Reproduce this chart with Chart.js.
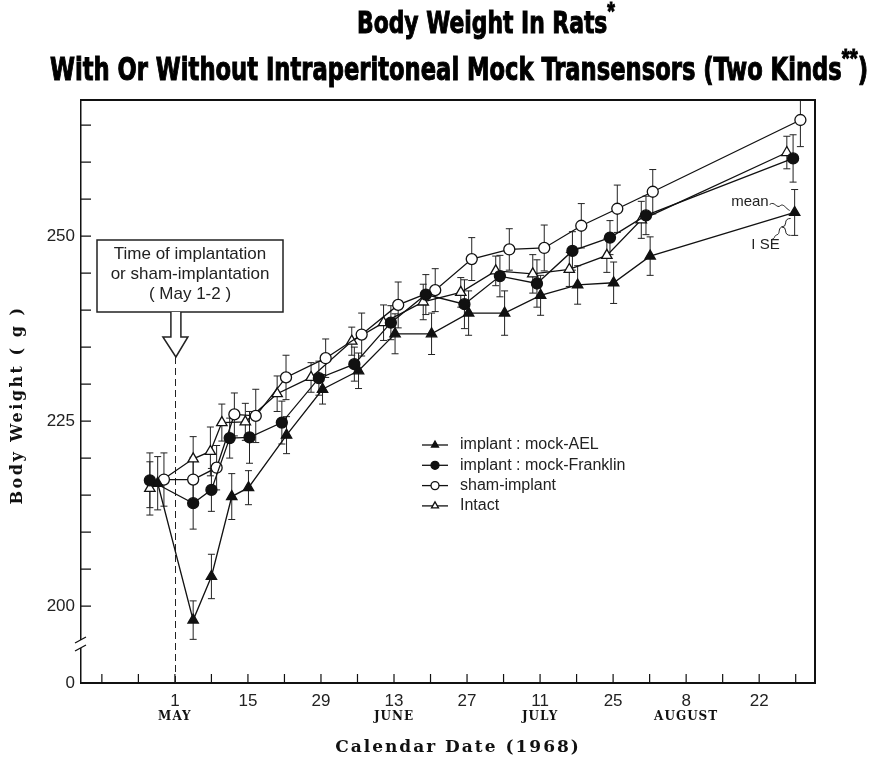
<!DOCTYPE html>
<html>
<head>
<meta charset="utf-8">
<script src="https://cdn.jsdelivr.net/npm/chart.js@4.4.0/dist/chart.umd.min.js"></script>
<style>
  html, body { margin: 0; padding: 0; background: #fff; }
</style>
</head>
<body>
<canvas id="myChart" width="874" height="759"></canvas>
<script>
// x = days counted from May 1 1968 (day 0), y = mean body weight (g), se = 1 standard error
const aelDays = [-3.3, 3.5, 7.0, 10.9, 14.1, 21.4, 28.3, 35.2, 42.2, 49.2, 56.3, 63.2, 70.1, 77.2, 84.1, 91.1, 118.8];
const aelWeight = [216.6, 198.1, 204.0, 214.8, 216.0, 223.1, 229.3, 231.8, 236.8, 236.8, 239.6, 239.6, 242.0, 243.4, 243.7, 247.3, 253.2];
const aelSE = [3.6, 2.6, 3.0, 3.1, 2.3, 2.5, 2.0, 2.4, 2.7, 2.8, 3.0, 3.0, 2.7, 2.6, 2.8, 2.6, 3.1];

const franklinDays = [-4.8, 3.5, 7.0, 10.5, 14.3, 20.5, 27.6, 34.4, 41.4, 48.1, 55.5, 62.3, 69.4, 76.2, 83.4, 90.3, 118.5];
const franklinWeight = [217.0, 213.9, 215.7, 222.7, 222.8, 224.8, 230.8, 232.7, 238.3, 242.1, 240.8, 244.6, 243.6, 248.0, 249.8, 252.8, 260.5];
const franklinSE = [3.7, 3.5, 2.9, 2.7, 3.5, 2.9, 2.3, 2.3, 2.3, 2.7, 3.3, 2.8, 3.2, 2.6, 2.3, 2.6, 3.2];

const shamDays = [-2.1, 3.5, 8.0, 11.4, 15.5, 21.3, 28.9, 35.8, 42.8, 49.9, 56.9, 64.1, 70.8, 77.9, 84.8, 91.6, 119.9];
const shamWeight = [217.1, 217.1, 218.7, 225.9, 225.7, 230.9, 233.5, 236.7, 240.7, 242.7, 246.9, 248.2, 248.4, 251.4, 253.7, 256.0, 265.7];
const shamSE = [3.6, 3.0, 3.0, 2.9, 3.6, 3.0, 2.6, 2.9, 3.1, 2.9, 2.9, 2.8, 3.1, 3.0, 3.2, 3.0, 3.6];

const intactDays = [-4.8, 3.5, 6.8, 9.0, 13.5, 19.6, 26.1, 33.9, 40.0, 47.6, 54.8, 61.5, 68.6, 75.6, 82.8, 89.4, 117.3];
const intactWeight = [215.9, 219.9, 220.9, 224.8, 224.9, 228.7, 230.9, 235.8, 238.3, 241.1, 242.4, 245.3, 244.9, 245.5, 247.4, 252.2, 261.3];
const intactSE = [3.6, 3.0, 3.3, 2.5, 2.5, 2.4, 2.0, 1.9, 2.4, 2.4, 2.0, 2.0, 2.6, 2.3, 2.3, 2.5, 2.2];

const seriesNames = ["implant : mock-AEL", "implant : mock-Franklin", "sham-implant", "Intact"];

// x axis: tick every week, labelled every two weeks
const weekTicks = [-14, -7, 0, 7, 14, 21, 28, 35, 42, 49, 56, 63, 70, 77, 84, 91, 98, 105, 112, 119];
const tickLabels = ["1", "15", "29", "13", "27", "11", "25", "8", "22"];
const monthNames = ["MAY", "JUNE", "JULY", "AUGUST"];
const monthDays = [0, 42, 70, 98];

// y axis: broken axis, bottom of plot is labelled 0
const yBottom = 189.6;
const yTop = 268.4;
const yLabelled = [200, 225, 250];
const implantDay = 0;

const sansFont = '"Liberation Sans", "DejaVu Sans", sans-serif';
const serifFont = '"DejaVu Serif", "Liberation Serif", serif';

function pts(days, weights) {
  return days.map((d, i) => ({ x: d, y: weights[i] }));
}

function makeSet(label, days, weights, se, style, fill) {
  return {
    label: label,
    data: pts(days, weights),
    errors: se,
    borderColor: "#111",
    borderWidth: 1.3,
    pointStyle: style,
    pointRadius: style === "triangle" ? 6 : 5.5,
    pointBorderWidth: 1.3,
    pointBorderColor: "#111",
    pointBackgroundColor: fill,
    backgroundColor: fill,
    tension: 0,
    fill: false,
  };
}

function drawTitleLine(c, parts, left, right, baseline, size) {
  c.save();
  const mainFont = `bold ${size}px "Liberation Sans Narrow", "DejaVu Sans Condensed", ${sansFont}`;
  const supFont = `bold ${Math.round(size * 0.8)}px ${sansFont}`;
  let total = 0;
  parts.forEach((p) => {
    c.font = p.sup ? supFont : mainFont;
    p.w = c.measureText(p.t).width;
    total += p.w;
  });
  c.translate(left, baseline);
  c.scale((right - left) / total, 1);
  c.fillStyle = "#000";
  c.strokeStyle = "#000";
  c.lineWidth = 1;
  c.textBaseline = "alphabetic";
  c.textAlign = "left";
  let xPos = 0;
  parts.forEach((p) => {
    c.font = p.sup ? supFont : mainFont;
    const yOff = p.sup ? -size * 0.42 : 0;
    c.fillText(p.t, xPos, yOff);
    c.strokeText(p.t, xPos, yOff);
    xPos += p.w;
  });
  c.restore();
}

const decor = {
  id: "decor",
  beforeDatasetsDraw(chart) {
    const c = chart.ctx;
    const area = chart.chartArea;
    const x = chart.scales.x;
    const y = chart.scales.y;

    // dashed line marking the implantation day
    c.save();
    c.strokeStyle = "#222";
    c.lineWidth = 1;
    c.setLineDash([7, 4]);
    c.beginPath();
    const dx = Math.round(x.getPixelForValue(implantDay)) + 0.5;
    c.moveTo(dx, 357);
    c.lineTo(dx, area.bottom);
    c.stroke();
    c.restore();

    // error bars (mean +/- 1 SE)
    c.save();
    c.beginPath();
    c.rect(area.left, area.top, area.right - area.left, area.bottom - area.top);
    c.clip();
    c.strokeStyle = "#222";
    c.lineWidth = 1;
    chart.data.datasets.forEach((ds, i) => {
      const meta = chart.getDatasetMeta(i);
      meta.data.forEach((pt, j) => {
        const v = ds.data[j].y;
        const e = ds.errors[j];
        const top = y.getPixelForValue(v + e);
        const bot = y.getPixelForValue(v - e);
        c.beginPath();
        c.moveTo(pt.x, top);
        c.lineTo(pt.x, bot);
        c.moveTo(pt.x - 3.5, top);
        c.lineTo(pt.x + 3.5, top);
        c.moveTo(pt.x - 3.5, bot);
        c.lineTo(pt.x + 3.5, bot);
        c.stroke();
      });
    });
    c.restore();
  },
  afterDraw(chart) {
    const c = chart.ctx;
    const area = chart.chartArea;
    const x = chart.scales.x;
    const y = chart.scales.y;

    // frame on top and right
    c.save();
    c.strokeStyle = "#111";
    c.lineWidth = 2;
    c.beginPath();
    c.moveTo(area.left, area.top);
    c.lineTo(area.right, area.top);
    c.lineTo(area.right, area.bottom);
    c.stroke();

    // inward tick marks
    c.lineWidth = 1.2;
    c.beginPath();
    x.ticks.forEach((t) => {
      const px = x.getPixelForValue(t.value);
      c.moveTo(px, area.bottom);
      c.lineTo(px, area.bottom - 9);
    });
    y.ticks.forEach((t) => {
      if (t.value < 200) return;
      const py = y.getPixelForValue(t.value);
      c.moveTo(area.left, py);
      c.lineTo(area.left + 10, py);
    });
    c.stroke();

    // axis break
    c.fillStyle = "#fff";
    c.fillRect(area.left - 3, 640, 6, 8);
    c.strokeStyle = "#111";
    c.lineWidth = 1.3;
    c.beginPath();
    c.moveTo(area.left - 6, 643);
    c.lineTo(area.left + 5, 637);
    c.moveTo(area.left - 6, 651);
    c.lineTo(area.left + 5, 645);
    c.stroke();
    c.restore();

    // annotation box with hollow arrow down to the implantation day
    const ax = x.getPixelForValue(implantDay);
    c.save();
    c.strokeStyle = "#222";
    c.lineWidth = 1.5;
    c.fillStyle = "#fff";
    c.strokeRect(97, 240, 186, 72);
    c.beginPath();
    c.moveTo(ax - 4, 312);
    c.lineTo(ax - 4, 337);
    c.lineTo(ax - 12, 337);
    c.lineTo(ax + 1, 357);
    c.lineTo(ax + 13, 337);
    c.lineTo(ax + 6, 337);
    c.lineTo(ax + 6, 312);
    c.fill();
    c.stroke();
    c.fillStyle = "#222";
    c.font = `17px ${sansFont}`;
    c.textAlign = "center";
    c.textBaseline = "middle";
    c.fillText("Time of implantation", 190, 254);
    c.fillText("or sham-implantation", 190, 274);
    c.fillText("( May 1-2 )", 190, 294);
    c.restore();

    // legend
    c.save();
    c.font = `16px ${sansFont}`;
    c.textAlign = "left";
    c.textBaseline = "middle";
    chart.data.datasets.forEach((ds, i) => {
      const ly = 445 + i * 20.3;
      c.strokeStyle = "#111";
      c.lineWidth = 1.3;
      c.beginPath();
      c.moveTo(422, ly);
      c.lineTo(448, ly);
      c.stroke();
      c.fillStyle = ds.pointBackgroundColor;
      Chart.helpers.drawPoint(c, { pointStyle: ds.pointStyle, radius: 4, borderWidth: 1.2 }, 435, ly);
      c.fillStyle = "#222";
      c.fillText(seriesNames[i], 460, ly);
    });
    c.restore();

    // "mean" and "1 SE" notes on the last AEL point
    const last = aelWeight.length - 1;
    const px = x.getPixelForValue(aelDays[last]);
    const pm = y.getPixelForValue(aelWeight[last]);
    const pb = y.getPixelForValue(aelWeight[last] - aelSE[last]);
    c.save();
    c.fillStyle = "#222";
    c.strokeStyle = "#222";
    c.lineWidth = 1;
    c.font = `15px ${sansFont}`;
    c.textAlign = "right";
    c.textBaseline = "middle";
    c.fillText("mean", px - 26, pm - 11);
    c.fillText("I SE", px - 15, pb + 9);
    c.beginPath();
    c.moveTo(px - 25, pm - 8);
    c.bezierCurveTo(px - 20, pm - 12, px - 18, pm - 3, px - 14, pm - 7);
    c.bezierCurveTo(px - 11, pm - 9, px - 9, pm - 4, px - 5, pm - 2);
    c.stroke();
    // curly brace over the lower half of the bar
    const bx = px - 4;
    const mid = (pm + pb) / 2 + 3;
    c.beginPath();
    c.moveTo(bx, pm + 6);
    c.quadraticCurveTo(bx - 5, pm + 6, bx - 5, mid - 4);
    c.quadraticCurveTo(bx - 5, mid, bx - 9, mid);
    c.quadraticCurveTo(bx - 5, mid, bx - 5, mid + 4);
    c.quadraticCurveTo(bx - 5, pb, bx, pb);
    c.moveTo(bx - 9, mid);
    c.bezierCurveTo(bx - 13, mid + 2, bx - 10, mid + 7, bx - 14, mid + 8);
    c.bezierCurveTo(bx - 17, mid + 9, bx - 15, pb + 3, bx - 19, pb + 4);
    c.stroke();
    c.restore();

    // titles
    drawTitleLine(c, [{ t: "Body Weight In Rats" }, { t: "*", sup: true }], 357, 615, 33, 31);
    drawTitleLine(c, [{ t: "With Or Without Intraperitoneal Mock Transensors (Two Kinds" }, { t: "**", sup: true }, { t: ")" }], 50, 868, 80, 32);

    // month names under the date ticks
    c.save();
    c.fillStyle = "#111";
    c.font = `bold 12px ${serifFont}`;
    c.textAlign = "center";
    c.textBaseline = "middle";
    if ("letterSpacing" in c) c.letterSpacing = "1px";
    monthNames.forEach((m, i) => {
      c.fillText(m, x.getPixelForValue(monthDays[i]), 717);
    });

    // axis titles
    c.font = `bold 17px ${serifFont}`;
    if ("letterSpacing" in c) c.letterSpacing = "2px";
    c.fillText("Calendar Date (1968)", 458, 748);
    c.font = `bold 16px ${serifFont}`;
    if ("letterSpacing" in c) c.letterSpacing = "2.5px";
    c.translate(18, 405);
    c.rotate(-Math.PI / 2);
    c.fillText("Body Weight ( g )", 0, 0);
    c.restore();
  },
};

new Chart(document.getElementById("myChart"), {
  type: "line",
  data: {
    datasets: [
      makeSet(seriesNames[0], aelDays, aelWeight, aelSE, "triangle", "#111"),
      makeSet(seriesNames[1], franklinDays, franklinWeight, franklinSE, "circle", "#111"),
      makeSet(seriesNames[2], shamDays, shamWeight, shamSE, "circle", "#fff"),
      makeSet(seriesNames[3], intactDays, intactWeight, intactSE, "triangle", "#fff"),
    ],
  },
  options: {
    responsive: false,
    animation: false,
    devicePixelRatio: 1,
    layout: { padding: { left: 0, top: 100, right: 59, bottom: 0 } },
    plugins: {
      legend: { display: false },
      title: { display: false },
      tooltip: { enabled: false },
    },
    scales: {
      x: {
        type: "linear",
        min: -18,
        max: 122.7,
        afterBuildTicks: (scale) => {
          scale.ticks = weekTicks.map((v) => ({ value: v }));
        },
        afterFit: (scale) => {
          scale.height = 76;
        },
        grid: { display: false, drawTicks: false },
        border: { display: true, color: "#111", width: 2 },
        ticks: {
          autoSkip: false,
          maxRotation: 0,
          padding: 8,
          color: "#222",
          font: { family: sansFont, size: 17 },
          callback: (v) => (v >= 0 && v % 14 === 0 ? tickLabels[v / 14] : ""),
        },
      },
      y: {
        type: "linear",
        min: yBottom,
        max: yTop,
        afterBuildTicks: (scale) => {
          const t = [{ value: yBottom }];
          for (let v = 200; v <= 265; v += 5) t.push({ value: v });
          scale.ticks = t;
        },
        afterFit: (scale) => {
          scale.width = 81;
        },
        grid: { display: false, drawTicks: false },
        border: { display: true, color: "#111", width: 1.5 },
        ticks: {
          autoSkip: false,
          padding: 6,
          color: "#222",
          font: { family: sansFont, size: 17 },
          callback: (v) => (v === yBottom ? "0" : yLabelled.includes(v) ? String(v) : ""),
        },
      },
    },
  },
  plugins: [decor],
});
</script>
</body>
</html>
